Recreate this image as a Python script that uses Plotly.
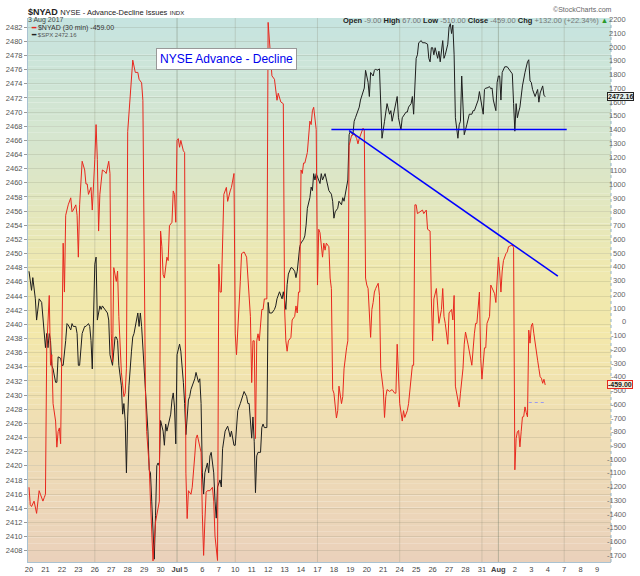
import pandas as pd
import plotly.graph_objects as go

# trading sessions on the axis (Jul 3 is a half day, Jul 4 closed)
sessions = [d for d in pd.bdate_range("2017-06-20", "2017-08-09") if d != pd.Timestamp("2017-07-04")]
half_days = [pd.Timestamp("2017-07-03")]

# 30 min bar index -> value
nyad_bar = [0, 1, 2, 4, 6, 8, 9, 11, 12, 13, 14, 15, 16, 17, 18, 19, 21, 22, 23, 24, 25,
            27, 28, 29, 31, 33, 34, 35, 37, 38, 39, 40, 42, 44, 45, 46, 47, 49, 50, 52, 53, 54, 55,
            56, 57, 58, 60, 61, 63, 64, 65, 66, 67, 69, 70, 71, 73, 74, 75, 76, 77, 78, 80, 81, 82,
            84, 86, 87, 89, 90, 91, 92, 93, 95, 96, 97, 98, 100, 101, 103, 104, 105, 106, 107, 109,
            110, 111, 113, 114, 115, 116, 117, 118, 119, 120, 122, 123, 124, 125, 126, 128, 129, 131,
            132, 133, 134, 136, 137, 138, 139, 140, 141, 143, 145, 146, 147, 149, 150, 151, 152, 153,
            154, 156, 157, 159, 160, 162, 163, 164, 165, 166, 167, 168, 170, 172, 173, 175, 176, 177,
            178, 179, 180, 181, 182, 184, 185, 186, 187, 188, 189, 191, 192, 194, 196, 197, 199, 201,
            202, 203, 204, 205, 207, 208, 210, 211, 212, 213, 214, 215, 216, 217, 218, 220, 221, 222,
            223, 224, 225, 226, 227, 228, 229, 230, 232, 233, 234, 235, 237, 238, 239, 240, 241, 243,
            244, 245, 247, 248, 249, 251, 252, 253, 255, 256, 257, 259, 260, 261, 262, 264, 265, 266,
            267, 268, 270, 271, 272, 273, 274, 276, 277, 278, 280, 281, 282, 283, 285, 287, 289, 290,
            291, 292, 293, 295, 296, 297, 299, 300, 302, 303, 304, 305, 306, 307, 309, 311, 312, 314,
            315, 317, 318, 319, 320, 322, 323, 324, 326, 327, 328, 329, 331, 332, 334, 335, 336, 337,
            339, 340, 341, 343, 344, 345, 347, 348, 349, 350, 352, 353, 354, 356, 357, 358, 360, 361,
            362, 364, 365, 366, 368, 369, 370, 371, 372, 373, 374, 375, 377, 378, 379, 381, 382, 383,
            384, 385, 386, 387, 388, 389, 390, 391, 392, 393, 394, 395, 396, 397, 398, 399, 400, 401,
            402, 403, 404, 405, 406, 407, 408]
nyad_val = [-1204, -1331, -1344, -1305, -1394, -1229, -1255, -1305, -1280, -1255, -189, 40, 192, -316,
            -239, -595, -722, -912, -798, -772, -887, 573, 217, 776, 852, 903, 801, 814, 852, 776, 471,
            852, 1169, 1106, 1004, 1004, 928, 979, 814, 1182, 1436, 1182, 661, 928, 1030, 1106, 1093,
            1080, 1169, 1080, -87, -290, 395, 294, 370, 40, -366, -468, -544, -519, -341, 1385, 1689,
            1816, 1905, 1816, 1816, 1766, 1740, 1613, 420, -500, -798, -1052, -1305, -1508, -1740,
            -1458, -1407, -1305, 661, 547, 344, 319, 471, 446, 700, 725, 953, 928, 725, 1321, 1334,
            1271, 1321, 1245, 1233, -1102, -1432, -1229, -1255, -1204, -976, -849, -823, -874, -950,
            -1400, -1700, -1450, -1240, -1229, -1229, -1204, -1305, -1559, -1737, 420, 217, 217, 547,
            928, 979, 877, 953, 979, 1080, -87, -239, -87, 116, 294, 497, 509, 471, 294, 40, -442,
            -138, -138, -849, -138, -87, -138, 90, 90, 167, 167, 167, 2180, 1892, 1791, 1766, 1613,
            1664, 1601, 1588, 100, -138, -214, -138, -113, 14, 40, 116, 65, 217, 217, 1106, 1080, 1156,
            1156, 1233, 1385, 1461, 1436, 1537, 1562, 1486, 1400, 268, 674, 649, 471, 573, 522, 573,
            547, 319, 243, -493, -519, -700, -646, -468, -595, -544, -341, -189, -138, 1283, 1359,
            1359, 1372, 1334, 1296, 1334, 1359, 1410, 1398, 319, 268, 243, -113, 90, 141, 217, 243,
            281, 192, -341, -493, -696, -544, -493, -506, -493, -519, -519, -163, -341, -595, -722,
            -646, -696, -646, -595, -392, -316, -316, 852, 852, 788, 801, 814, 788, 814, 674, 661, 167,
            -138, 167, 243, 116, -11, 90, 243, 40, -11, -163, 65, 90, 14, 192, -468, -569, -620, -519,
            -341, -163, -74, -163, -214, -239, -316, -87, -11, -11, 217, -265, -417, -189, -189, -11,
            40, 268, 250, 205, 141, 268, 471, 370, 217, 370, 446, 497, 509, 547, 560, 560, 540, -1077,
            -850, -800, -790, -910, -800, -692, -690, -619, -660, -692, -60, -155, -30, -10, -83, -160,
            -240, -279, -340, -400, -410, -447, -418, -459]

spx_bar = [0, 2, 3, 5, 6, 8, 10, 11, 13, 14, 15, 16, 17, 18, 19, 21, 22, 23, 25, 26, 27, 29, 30,
           31, 33, 34, 35, 37, 38, 39, 40, 42, 44, 45, 47, 48, 49, 50, 52, 53, 54, 56, 57, 58, 60, 62,
           63, 64, 66, 68, 69, 70, 71, 73, 74, 75, 76, 77, 78, 79, 81, 82, 83, 84, 86, 87, 88, 89, 91,
           92, 93, 94, 95, 96, 97, 98, 99, 100, 101, 102, 103, 104, 105, 106, 107, 108, 109, 111, 112,
           113, 114, 115, 116, 117, 119, 120, 121, 122, 123, 124, 126, 127, 128, 130, 131, 132, 134,
           135, 136, 137, 138, 139, 141, 142, 143, 144, 146, 147, 148, 149, 151, 152, 153, 155, 157,
           158, 159, 160, 162, 163, 164, 165, 167, 169, 170, 172, 173, 174, 176, 177, 178, 179, 180,
           181, 183, 184, 185, 186, 188, 189, 190, 192, 194, 195, 196, 198, 199, 200, 201, 203, 204,
           205, 207, 208, 210, 211, 212, 214, 215, 217, 218, 219, 220, 222, 223, 224, 225, 226, 227,
           228, 230, 231, 232, 234, 235, 236, 237, 239, 240, 241, 242, 244, 245, 247, 248, 249, 251,
           252, 253, 254, 256, 257, 258, 260, 261, 262, 264, 265, 266, 268, 269, 270, 272, 273, 274,
           275, 277, 278, 279, 281, 282, 283, 285, 286, 287, 289, 290, 291, 292, 293, 294, 295, 297,
           298, 299, 300, 302, 303, 304, 305, 306, 307, 308, 310, 311, 313, 315, 316, 317, 318, 319,
           320, 321, 323, 324, 325, 327, 328, 329, 331, 332, 333, 334, 335, 336, 337, 339, 340, 341,
           342, 343, 344, 346, 347, 348, 350, 351, 352, 354, 355, 356, 358, 359, 360, 361, 362, 364,
           365, 366, 367, 369, 370, 371, 372, 373, 374, 375, 376, 378, 379, 381, 382, 383, 384, 385,
           386, 387, 388, 390, 391, 392, 394, 395, 396, 397, 398, 399, 400, 402, 403, 404, 405, 406,
           407, 408]
spx_val = [2447.5, 2444.8, 2446.6, 2443.6, 2440.6, 2443.6, 2443.1, 2440.6, 2436.7, 2438.7, 2436.7,
           2438.7, 2437.7, 2434.2, 2433.7, 2431.8, 2431.8, 2435.4, 2435.2, 2434.2, 2434.2, 2437.7,
           2440.1, 2439.9, 2439.2, 2440.1, 2439.7, 2439.7, 2438.7, 2434.2, 2434.2, 2438.7, 2439.7,
           2439.7, 2440.1, 2439.7, 2437.7, 2433.7, 2448.5, 2449.5, 2440.6, 2442.6, 2442.1, 2442.6,
           2442.1, 2441.6, 2440.6, 2435.7, 2434.2, 2438.2, 2438.2, 2437.7, 2434.2, 2431.3, 2427.3,
           2428.8, 2426.4, 2419.0, 2426.9, 2431.3, 2436.2, 2438.2, 2438.7, 2439.7, 2441.6, 2439.7,
           2441.6, 2439.7, 2433.7, 2431.3, 2427.8, 2424.9, 2419.4, 2419.0, 2415.0, 2410.6, 2406.8,
           2413.0, 2420.0, 2420.4, 2420.0, 2426.4, 2425.4, 2424.9, 2422.9, 2425.9, 2424.9, 2426.4,
           2427.3, 2429.3, 2430.3, 2428.3, 2423.1, 2435.7, 2437.2, 2436.2, 2434.2, 2431.8, 2428.8,
           2424.4, 2429.3, 2429.8, 2430.8, 2431.8, 2432.3, 2433.2, 2431.8, 2432.3, 2428.8, 2419.0,
           2416.0, 2419.0, 2420.4, 2419.0, 2421.4, 2421.9, 2419.0, 2415.0, 2412.6, 2417.0, 2418.0,
           2417.0, 2422.4, 2424.9, 2425.6, 2424.9, 2424.1, 2424.9, 2422.9, 2422.9, 2425.9, 2427.8,
           2428.8, 2429.8, 2430.5, 2429.8, 2428.8, 2428.8, 2423.9, 2426.9, 2423.4, 2416.2, 2421.4,
           2421.9, 2421.9, 2425.4, 2425.9, 2425.4, 2425.4, 2443.1, 2441.6, 2441.6, 2442.1, 2442.6,
           2443.6, 2444.6, 2444.1, 2443.6, 2444.6, 2442.1, 2445.6, 2447.1, 2448.0, 2448.0, 2447.5,
           2446.6, 2447.5, 2451.0, 2451.5, 2452.0, 2452.5, 2454.0, 2456.4, 2457.9, 2459.4, 2458.9,
           2461.3, 2460.4, 2461.3, 2460.9, 2459.9, 2461.3, 2460.4, 2461.3, 2460.4, 2459.9, 2458.9,
           2458.4, 2457.4, 2455.0, 2455.9, 2456.4, 2457.4, 2456.9, 2457.9, 2457.4, 2459.4, 2460.4,
           2466.8, 2467.3, 2466.8, 2468.7, 2469.2, 2470.2, 2470.7, 2471.7, 2472.7, 2473.4, 2475.9,
           2474.2, 2472.2, 2475.6, 2475.1, 2475.9, 2476.1, 2475.9, 2476.1, 2469.2, 2466.3, 2468.7,
           2469.7, 2471.2, 2469.7, 2470.2, 2468.7, 2470.7, 2471.2, 2472.2, 2469.2, 2468.2, 2467.5,
           2469.2, 2469.7, 2470.0, 2470.0, 2470.7, 2471.2, 2472.2, 2469.7, 2474.2, 2477.6, 2478.1,
           2479.8, 2480.1, 2479.8, 2479.8, 2479.6, 2477.6, 2477.1, 2479.1, 2479.1, 2478.1, 2479.1,
           2477.6, 2478.6, 2477.1, 2480.1, 2477.6, 2478.1, 2479.6, 2482.0, 2482.5, 2481.1, 2482.3,
           2478.1, 2469.2, 2466.3, 2468.2, 2468.7, 2475.1, 2469.7, 2466.8, 2468.2, 2469.2, 2469.7,
           2469.7, 2470.2, 2470.2, 2471.2, 2471.7, 2472.9, 2470.7, 2469.7, 2473.2, 2473.4, 2473.4,
           2473.6, 2473.3, 2473.4, 2471.7, 2470.2, 2474.2, 2475.1, 2475.1, 2471.7, 2475.6, 2476.1,
           2476.4, 2476.4, 2476.1, 2475.6, 2475.4, 2471.2, 2467.3, 2471.2, 2469.2, 2470.0, 2470.7,
           2473.7, 2474.7, 2475.6, 2477.1, 2477.4, 2474.4, 2474.2, 2473.2, 2472.7, 2472.2, 2473.2,
           2471.4, 2472.7, 2473.4, 2473.7, 2472.4, 2472.16]

nyad_last = -459.00
spx_last = 2472.16
prev_close_level = -587          # small dotted marker on the right
support_level = 1400             # hand drawn blue lines (right scale)
support_from, support_to = 239, 425
trend_from, trend_to = (253, 1393), (418, 333)

# x positions of each session start
starts, pos = [], 0
for d in sessions:
    starts.append(pos)
    pos += 7 if d in half_days else 13
labels = []
for i, d in enumerate(sessions):
    if i > 0 and d.month != sessions[i - 1].month:
        labels.append("<b>" + d.strftime("%b") + "</b>")
    else:
        labels.append(str(d.day))

L, R, T, B = 28, 29, 18, 14
W, H = 640, 576
PW, PH = W - L - R, H - T - B


def px(x):
    return (x - L) / PW


def py(y):
    return (H - B - y) / PH


fig = go.Figure()
fig.add_trace(go.Scatter(x=nyad_bar, y=nyad_val, yaxis="y2", mode="lines",
                         line=dict(color="#e8281e", width=1), hoverinfo="skip"))
fig.add_trace(go.Scatter(x=spx_bar, y=spx_val, mode="lines",
                         line=dict(color="#1e1e1e", width=1), hoverinfo="skip"))

shapes = []
# background gradient: teal on top, yellow in the middle, peach at the bottom
stops = [(0.0, (234, 209, 187)), (0.25, (239, 222, 180)), (0.42, (243, 232, 170)),
         (0.55, (238, 232, 176)), (0.75, (216, 230, 204)), (1.0, (198, 228, 224))]
n = 90
for i in range(n):
    f = (i + 0.5) / n
    for j in range(len(stops) - 1):
        if stops[j][0] <= f <= stops[j + 1][0]:
            a, ca = stops[j]
            b, cb = stops[j + 1]
            t = (f - a) / (b - a)
            c = tuple(round(ca[k] + (cb[k] - ca[k]) * t) for k in range(3))
            break
    shapes.append(dict(type="rect", xref="paper", yref="paper", x0=0, x1=1,
                       y0=i / n, y1=(i + 1.02) / n, fillcolor="rgb(%d,%d,%d)" % c,
                       line=dict(width=0), layer="below"))

# weekly and monthly vertical grid
for i, d in enumerate(sessions):
    month_start = i > 0 and d.month != sessions[i - 1].month
    if d.weekday() == 0 or month_start:
        shapes.append(dict(type="line", xref="x", yref="paper", x0=starts[i], x1=starts[i],
                           y0=0, y1=1, layer="below",
                           line=dict(color="rgba(120,130,110,0.45)" if month_start else "rgba(140,140,120,0.28)",
                                     width=1)))

# blue hand-drawn lines
shapes.append(dict(type="line", xref="x", yref="y2", x0=support_from, x1=support_to,
                   y0=support_level, y1=support_level, line=dict(color="#0000ff", width=1.5)))
shapes.append(dict(type="line", xref="x", yref="y2", x0=trend_from[0], x1=trend_to[0],
                   y0=trend_from[1], y1=trend_to[1], line=dict(color="#0000ff", width=1.5)))
shapes.append(dict(type="line", xref="x", yref="y2", x0=395, x1=407,
                   y0=prev_close_level, y1=prev_close_level,
                   line=dict(color="#9a9af0", width=1, dash="dot")))
# right axis line (dotted)
shapes.append(dict(type="line", xref="paper", yref="paper", x0=1, x1=1, y0=0, y1=1,
                   line=dict(color="#8fb3c8", width=1, dash="dot")))

ann = []
# right axis labels, right aligned like the original
for v in range(-1700, 2201, 100):
    ann.append(dict(x=1, y=v, xref="paper", yref="y2", text=str(v), showarrow=False,
                    xanchor="right", xshift=17, font=dict(size=7.5, color="#666")))

ann += [
    dict(x=px(27), y=py(5.5), xref="paper", yref="paper", xanchor="left", showarrow=False,
         borderpad=0,
         text="<b>$NYAD</b> <span style='font-size:7.5px'>NYSE - Advance-Decline Issues</span> "
              "<span style='font-size:6px'>INDX</span>",
         font=dict(size=9, color="#222")),
    dict(x=px(27), y=py(14.5), xref="paper", yref="paper", xanchor="left", showarrow=False,
         borderpad=0, text="3 Aug 2017", font=dict(size=7, color="#444")),
    dict(x=px(613), y=py(5), xref="paper", yref="paper", xanchor="right", showarrow=False,
         borderpad=0, text="©StockCharts.com", font=dict(size=7, color="#666")),
    dict(x=px(609), y=py(14.5), xref="paper", yref="paper", xanchor="right", showarrow=False,
         borderpad=0,
         text="<b>Open</b> <span style='color:#777'>-9.00</span> <b>High</b> "
              "<span style='color:#777'>67.00</span> <b>Low</b> <span style='color:#777'>-510.00</span> "
              "<b>Close</b> <span style='color:#777'>-459.00</span> <b>Chg</b> "
              "<span style='color:#777'>+132.00 (+22.34%)</span> <span style='color:#2a9a2a'>▲</span>",
         font=dict(size=7.5, color="#222")),
    dict(x=px(30), y=py(22.5), xref="paper", yref="paper", xanchor="left", showarrow=False,
         borderpad=0,
         text="<span style='color:#e8281e'><b>━</b></span> $NYAD (30 min) -459.00",
         font=dict(size=7, color="#333")),
    dict(x=px(30), y=py(30), xref="paper", yref="paper", xanchor="left", showarrow=False,
         borderpad=0,
         text="<span style='color:#222'><b>━</b></span> <span style='font-size:6px'>$SPX 2472.16</span>",
         font=dict(size=6.5, color="#555")),
    dict(x=px(226.5), y=py(48), xref="paper", yref="paper", showarrow=False,
         text="NYSE Advance - Decline", font=dict(size=12, color="#0000ee", family="Liberation Sans"),
         bgcolor="white", bordercolor="#999", borderwidth=1, borderpad=3),
    dict(x=1, y=spx_last, xref="paper", yref="y", xanchor="left", xshift=-4, showarrow=False,
         text="<b>%.2f</b>" % spx_last, font=dict(size=7, color="#222"),
         bgcolor="#e6f2ef", bordercolor="#222", borderwidth=1, borderpad=0),
    dict(x=1, y=nyad_last, xref="paper", yref="y2", xanchor="left", xshift=-4, showarrow=False,
         text="<b>%.2f</b>" % nyad_last, font=dict(size=7, color="#222"),
         bgcolor="#f6ecd8", bordercolor="#e8281e", borderwidth=1, borderpad=0),
]

fig.update_layout(
    width=W, height=H,
    margin=dict(l=L, r=R, t=T, b=B, autoexpand=False),
    paper_bgcolor="white", plot_bgcolor="rgba(0,0,0,0)",
    font=dict(family="Liberation Sans, Arial, sans-serif", size=8, color="#444"),
    showlegend=False,
    shapes=shapes, annotations=ann,
    xaxis=dict(range=[-0.8, 460], tickvals=starts, ticktext=labels, ticks="",
               tickfont=dict(size=7.5, color="#444"), showgrid=False, zeroline=False,
               showline=True, linecolor="#a9c2d2", tickangle=0, automargin=False),
    yaxis=dict(range=[2406.4, 2483.3], tick0=2408, dtick=2, ticks="outside", ticklen=3,
               tickcolor="#999", tickfont=dict(size=7.5, color="#555"), showgrid=True,
               gridcolor="rgba(110,110,90,0.17)", zeroline=False, showline=True,
               linecolor="#a9c2d2", automargin=False),
    yaxis2=dict(range=[-1748, 2212], overlaying="y", side="right", showticklabels=False,
                showgrid=False, zeroline=False, automargin=False),
)

# page body has a default 8px margin; drop it so the 640x576 figure fills the window
fig.write_html("out.html", config={"displayModeBar": False},
               post_script="document.body.style.margin='0';document.body.style.overflow='hidden';")
